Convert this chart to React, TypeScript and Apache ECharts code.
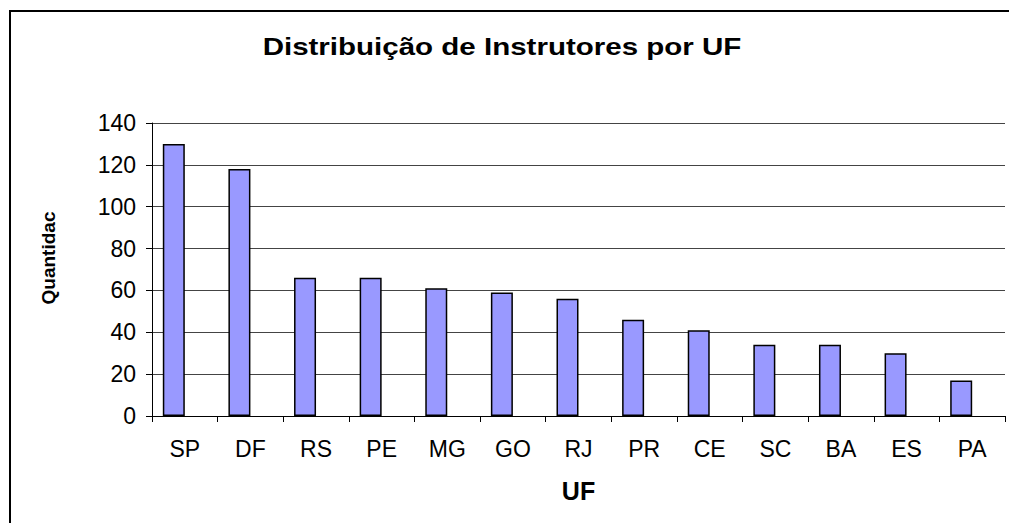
import React, { useEffect, useRef } from "react";
import * as echarts from "echarts";

const titleText = "Distribuição de Instrutores por UF";
const yAxisTitle = "Quantidac";
const xAxisTitle = "UF";
const categories = ["SP", "DF", "RS", "PE", "MG", "GO", "RJ", "PR", "CE", "SC", "BA", "ES", "PA"];
const quantities = [130, 118, 66, 66, 61, 59, 56, 46, 41, 34, 34, 30, 17];
const emptySeries = categories.map(() => null as number | null);

const FONT = "'Liberation Sans', Arial, sans-serif";

export default function App() {
  const ref = useRef<HTMLDivElement>(null);
  useEffect(() => {
    if (!ref.current) return;
    const chart = echarts.init(ref.current, null, { renderer: "svg" });
    chart.setOption({
      animation: false,
      backgroundColor: "#ffffff",
      grid: { left: 152, right: 4, top: 123, bottom: 107, containLabel: false },
      xAxis: {
        type: "category",
        data: categories,
        boundaryGap: true,
        axisLine: { show: true, lineStyle: { color: "#000", width: 1 } },
        axisTick: { show: true, length: 6, interval: 0, lineStyle: { color: "#000" } },
        axisLabel: { interval: 0, margin: 21, fontSize: 23, color: "#000", fontFamily: FONT },
        name: xAxisTitle,
        nameLocation: "middle",
        nameGap: 62,
        nameTextStyle: { fontSize: 25, fontWeight: "bold", color: "#000", fontFamily: FONT },
      },
      yAxis: {
        type: "value",
        min: 0,
        max: 140,
        interval: 20,
        axisLine: { show: true, lineStyle: { color: "#000", width: 1 } },
        axisTick: { show: true, length: 6, lineStyle: { color: "#000" } },
        axisLabel: { margin: 16, fontSize: 23, color: "#000", fontFamily: FONT },
        splitLine: { show: true, lineStyle: { color: "#444", width: 1 } },
      },
      series: [
        {
          type: "bar",
          data: quantities,
          barWidth: 22,
          barGap: "0%",
          itemStyle: { color: "#9999ff", borderColor: "#000", borderWidth: 1.5 },
        },
        {
          type: "bar",
          data: emptySeries,
          barWidth: 22,
          barGap: "0%",
          itemStyle: { color: "#993366" },
        },
      ],
      graphic: [
        {
          type: "rect",
          silent: true,
          shape: { x: 10, y: 11, width: 1100, height: 700 },
          style: { fill: "none", stroke: "#000", lineWidth: 2 },
          z: 100,
        },
        {
          type: "text",
          x: 502,
          y: 47,
          scaleX: 1.23,
          style: {
            text: titleText,
            fontSize: 24,
            fontWeight: "bold",
            fontFamily: FONT,
            fill: "#000",
            align: "center",
            verticalAlign: "middle",
          },
        },
        {
          type: "text",
          x: 48,
          y: 258,
          rotation: Math.PI / 2,
          style: {
            text: yAxisTitle,
            fontSize: 19,
            fontWeight: "bold",
            fontFamily: FONT,
            fill: "#000",
            align: "center",
            verticalAlign: "middle",
          },
        },
      ],
    });
    return () => chart.dispose();
  }, []);
  return (
    <div
      ref={ref}
      style={{ position: "absolute", left: 0, top: 0, width: 1009, height: 523 }}
    />
  );
}
